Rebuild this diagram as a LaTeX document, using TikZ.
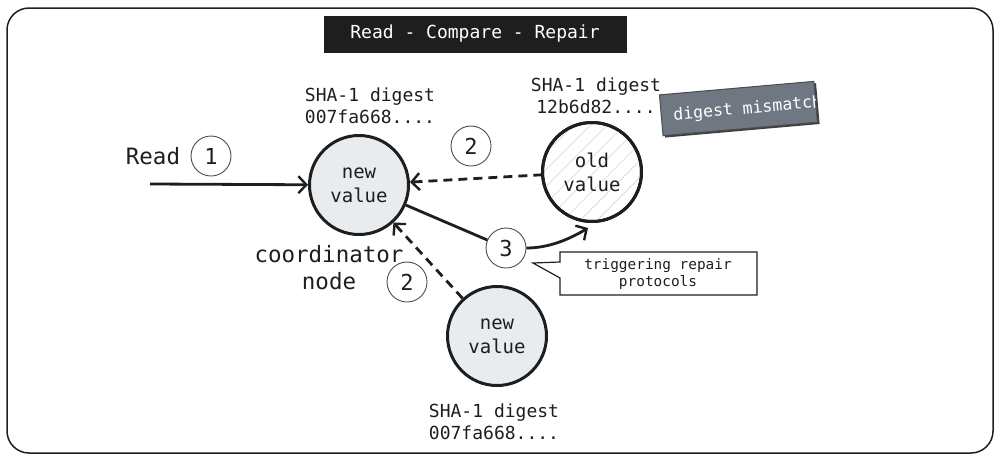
\documentclass[tikz,border=0pt]{standalone}
\usepackage{fontspec}
\setmonofont{DejaVu Sans Mono}
\usetikzlibrary{arrows.meta,patterns.meta}
\definecolor{titlebg}{HTML}{1E1E1E}
\definecolor{cfill}{HTML}{E9ECEF}
\definecolor{mmgray}{HTML}{6F7782}
\definecolor{hatchc}{HTML}{D4D4D4}
\definecolor{ink}{HTML}{1E1E1E}
\begin{document}
\begin{tikzpicture}[x=1pt,y=-1pt,
  every node/.style={font=\ttfamily, text=ink},
  valnode/.style={circle, draw=ink, line width=3pt, fill=cfill, minimum size=99pt, inner sep=0pt, align=center, font=\ttfamily\fontsize{19}{24}\selectfont},
  oldnode/.style={valnode, fill=white, pattern={Lines[angle=45,distance=12pt,line width=0.6pt]}, pattern color=hatchc},
  numc/.style={circle, draw=ink!80, line width=0.9pt, minimum size=40pt, inner sep=0pt, font=\ttfamily\fontsize{22}{24}\selectfont},
  shalbl/.style={align=center, font=\ttfamily\fontsize{18}{22}\selectfont},
  biglbl/.style={align=center, font=\ttfamily\fontsize{22.5}{27}\selectfont},
  arr/.style={draw=ink, line width=2.8pt, -{Straight Barb[length=8pt,width=17pt,line width=2.4pt]}},
  dasharr/.style={arr, dash pattern=on 9pt off 6pt},
]
\useasboundingbox (0,0) rectangle (1000,461);
% outer frame
\draw[ink, line width=1.5pt, rounded corners=22pt] (7,8) rectangle (993,453);

% title
\node[fill=titlebg, minimum width=303pt, minimum height=37pt, inner sep=0pt, text=white, font=\ttfamily\fontsize{18}{22}\selectfont] (title) at (475,34) {Read - Compare - Repair};

% circles
\node[valnode] (nv) at (359,185) {new\\value};
\node[valnode, fill=white] (ovbg) at (592,172) {};
\node[oldnode] (ov) at (592,172) {old\\value};
\node[valnode] (bv) at (497,336) {new\\value};

% number circles
\node[numc] (n1) at (211,156) {1};
\node[numc] (n2a) at (471,146) {2};
\node[numc] (n2b) at (407,282) {2};
\node[numc] (n3) at (506,248) {3};

% labels
\node[biglbl] (readlbl) at (153,156) {Read};
\node[biglbl] (coord) at (329,268) {coordinator\\node};
\node[shalbl] (sha1) at (370,106) {SHA-1 digest\\007fa668....};
\node[shalbl] (sha2) at (596,96) {SHA-1 digest\\12b6d82....};
\node[shalbl] (sha3) at (494,422) {SHA-1 digest\\007fa668....};

% digest mismatch box
\begin{scope}[shift={(739,109)}, rotate=5]
  \fill[black!75] (-76,-19) rectangle (79,22);
  \draw[fill=mmgray, draw=black!70, line width=1pt] (-78,-21) rectangle (77,20);
  \clip (-78,-21) rectangle (77,20);
  \node[transform shape, anchor=west, text=white, font=\ttfamily\fontsize{16.5}{20}\selectfont, inner sep=0pt] (mism) at (-66,1) {digest mismatch};
\end{scope}

% connectors
\coordinate (rs) at (150,184);
\draw[arr] (rs) -- (nv);
\draw[dasharr] (ov) -- (nv);
\draw[dasharr] (bv) -- (nv);
\draw[ink, line width=2.8pt] (nv) -- (n3);
\coordinate (ovtip) at (588,228);
\draw[arr] (n3.east) .. controls (548,248) and (568,240) .. (ovtip);

% callout
\node[align=center, font=\ttfamily\fontsize{14.4}{17}\selectfont, inner sep=0pt] (call) at (658,274) {triggering repair\\protocols};
\draw[ink, line width=1.2pt, line join=miter] (560,252) -- (757,252) -- (757,295) -- (560,295) -- (560,278) -- (533,263) -- (560,262) -- cycle;
\end{tikzpicture}
\end{document}
